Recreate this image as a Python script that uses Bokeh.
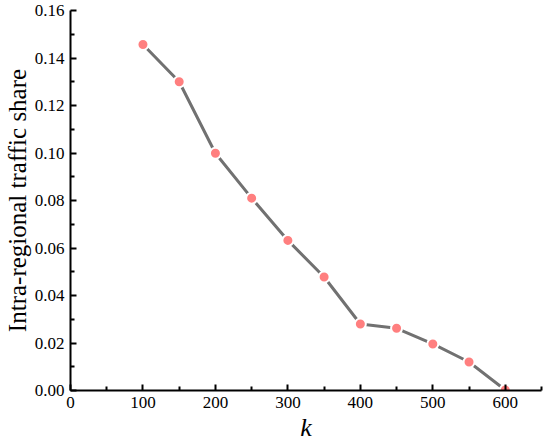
from bokeh.plotting import figure
from bokeh.models import ColumnDataSource, FixedTicker, NumeralTickFormatter, Range1d
from bokeh.embed import file_html
from bokeh.resources import INLINE

k_values = [100, 150, 200, 250, 300, 350, 400, 450, 500, 550, 600]
share = [0.1457, 0.1300, 0.0999, 0.0810, 0.0632, 0.0478, 0.0280, 0.0262, 0.0196, 0.0120, 0.0002]
x_ticks = [0, 100, 200, 300, 400, 500, 600]
y_ticks = [0.00, 0.02, 0.04, 0.06, 0.08, 0.10, 0.12, 0.14, 0.16]

src = ColumnDataSource(data=dict(k=k_values, s=share))

p = figure(frame_width=471, frame_height=380, output_backend="svg", toolbar_location=None,
           x_range=Range1d(0, 650), y_range=Range1d(0, 0.16),
           min_border_left=10, min_border_right=8, min_border_top=10, min_border_bottom=50)
p.outline_line_color = None
p.xgrid.visible = False
p.ygrid.visible = False

p.line("k", "s", source=src, line_color="#717171", line_width=3)
p.scatter("k", "s", source=src, size=11, fill_color="#ff7f7f", line_color="white", line_width=2)

font = "Liberation Serif"
p.xaxis.major_label_text_font = font
p.yaxis.major_label_text_font = font
for ax in (p.xaxis[0], p.yaxis[0]):
    ax.axis_line_width = 2
    ax.axis_line_color = "black"
    ax.major_tick_in = 6
    ax.major_tick_out = 0
    ax.minor_tick_in = 4
    ax.minor_tick_out = 0
    ax.major_tick_line_width = 2
    ax.minor_tick_line_width = 2
    ax.major_label_text_font = font
    ax.major_label_text_font_size = "17px"
    ax.major_label_text_color = "black"
    ax.axis_label_text_font = font
    ax.axis_label_text_font_style = "normal"
    ax.axis_label_text_color = "black"

p.xaxis.ticker = FixedTicker(ticks=x_ticks, minor_ticks=[50, 150, 250, 350, 450, 550, 650])
p.yaxis.ticker = FixedTicker(ticks=y_ticks, minor_ticks=[0.01, 0.03, 0.05, 0.07, 0.09, 0.11, 0.13, 0.15])
p.yaxis.formatter = NumeralTickFormatter(format="0.00")
p.xaxis.axis_label = "k"
p.xaxis.axis_label_text_font_style = "italic"
p.xaxis.axis_label_text_font_size = "26px"
p.xaxis.axis_label_standoff = 2
p.yaxis.axis_label = "Intra-regional traffic share"
p.yaxis.axis_label_text_font_size = "25px"
p.yaxis.axis_label_standoff = 1
p.xaxis.major_label_standoff = 6
p.yaxis.major_label_standoff = 6

open("out.html", "w").write(file_html(p, INLINE))
